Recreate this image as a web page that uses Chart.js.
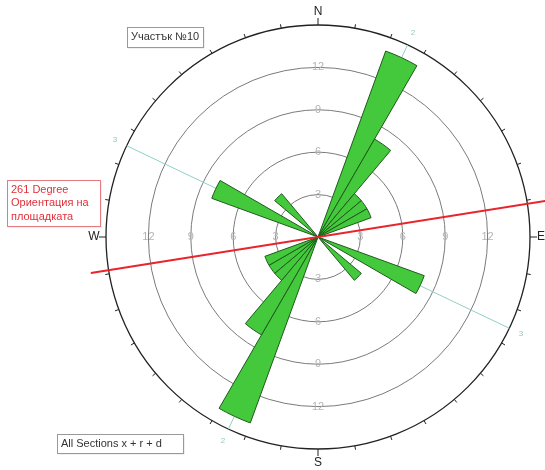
<!DOCTYPE html>
<html>
<head>
<meta charset="utf-8">
<script src="https://cdn.jsdelivr.net/npm/chart.js@4/dist/chart.umd.min.js"></script>
<style>
  html, body { margin: 0; padding: 0; background: #fff; }
  #wrap { width: 545px; height: 470px; }
</style>
</head>
<body>
<div id="wrap"><canvas id="rose" width="545" height="470"></canvas></div>
<script>
// Rose diagram of joint orientations, 10-degree bins, azimuth clockwise from north
const binLabels = [
  '0-10', '10-20', '20-30', '30-40', '40-50', '50-60', '60-70', '70-80', '80-90',
  '90-100', '100-110', '110-120', '120-130', '130-140', '140-150', '150-160', '160-170', '170-180',
  '180-190', '190-200', '200-210', '210-220', '220-230', '230-240', '240-250', '250-260', '260-270',
  '270-280', '280-290', '290-300', '300-310', '310-320', '320-330', '330-340', '340-350', '350-360'
];
const binCounts = [
  0, 0, 14, 8, 4, 4, 4, 0, 0,
  0, 0, 8, 0, 4, 0, 0, 0, 0,
  0, 0, 14, 8, 4, 4, 4, 0, 0,
  0, 0, 8, 0, 4, 0, 0, 0, 0
];
const ringValues = [3, 6, 9, 12];
const scaleMax = 15;
const compassLabels = ['N', 'E', 'S', 'W'];
const setNames = ['2', '3'];
const setDirections = [25, 115.5];
const siteOrientation = 261;
const titleText = 'Участък №10';
const footText = 'All Sections x + r + d';
const orientationLines = ['261 Degree', 'Ориентация на', 'площадката'];

const FONT = '"Liberation Sans", Arial, sans-serif';

function polar(scale, az, r) {
  const a = (az - 90) * Math.PI / 180;
  return { x: scale.xCenter + Math.cos(a) * r, y: scale.yCenter + Math.sin(a) * r };
}

function textBox(ctx, x, y, w, h, lines, color, border, lineH) {
  ctx.save();
  ctx.fillStyle = 'rgba(0,0,0,0.12)';
  ctx.fillRect(x + 1.5, y + 1.5, w, h);
  ctx.fillStyle = '#fff';
  ctx.fillRect(x, y, w, h);
  ctx.strokeStyle = border;
  ctx.lineWidth = 1;
  ctx.strokeRect(x + 0.5, y + 0.5, w, h);
  ctx.fillStyle = color;
  ctx.font = '11px ' + FONT;
  ctx.textBaseline = 'middle';
  ctx.textAlign = 'left';
  lines.forEach((t, i) => ctx.fillText(t, x + 4, y + h / 2 + (i - (lines.length - 1) / 2) * lineH));
  ctx.restore();
}

const underlay = {
  id: 'underlay',
  beforeDatasetsDraw(chart) {
    const ctx = chart.ctx;
    const s = chart.scales.r;
    const R = s.drawingArea;
    ctx.save();
    // mean directions of the joint sets
    ctx.strokeStyle = '#8fd0c6';
    ctx.lineWidth = 1;
    setDirections.forEach((az, i) => {
      const p1 = polar(s, az, R), p2 = polar(s, az + 180, R);
      ctx.beginPath(); ctx.moveTo(p1.x, p1.y); ctx.lineTo(p2.x, p2.y); ctx.stroke();
      ctx.fillStyle = '#8fc8c0';
      ctx.font = '8px ' + FONT;
      ctx.textAlign = 'center'; ctx.textBaseline = 'middle';
      [az, az + 180].forEach(a => {
        const q = polar(s, a, R + 13);
        ctx.fillText(setNames[i], q.x, q.y);
      });
    });
    // ring values along the four cardinal directions
    ctx.fillStyle = '#b4b4b4';
    ctx.font = '11px ' + FONT;
    ctx.textAlign = 'center'; ctx.textBaseline = 'middle';
    ringValues.forEach(v => {
      const d = s.getDistanceFromCenterForValue(v);
      [0, 90, 180, 270].forEach(az => {
        const q = polar(s, az, d);
        ctx.fillText(String(v), q.x, q.y);
      });
    });
    ctx.restore();
  },
  afterDatasetsDraw(chart) {
    const ctx = chart.ctx;
    const s = chart.scales.r;
    const R = s.drawingArea;
    ctx.save();
    // compass ticks every 10 degrees
    ctx.strokeStyle = '#222';
    ctx.lineWidth = 1;
    for (let az = 0; az < 360; az += 10) {
      const len = az % 90 === 0 ? 7 : 4;
      const p1 = polar(s, az, R), p2 = polar(s, az, R + len);
      ctx.beginPath(); ctx.moveTo(p1.x, p1.y); ctx.lineTo(p2.x, p2.y); ctx.stroke();
    }
    ctx.fillStyle = '#222';
    ctx.font = '12px ' + FONT;
    ctx.textAlign = 'center'; ctx.textBaseline = 'middle';
    const labelGap = [13, 11, 14, 12];
    compassLabels.forEach((t, i) => {
      const q = polar(s, i * 90, R + labelGap[i]);
      ctx.fillText(t, q.x, q.y);
    });
    // site orientation line
    ctx.strokeStyle = '#e8242c';
    ctx.lineWidth = 2;
    const a1 = polar(s, siteOrientation, 230), a2 = polar(s, siteOrientation - 180, 232);
    ctx.beginPath(); ctx.moveTo(a1.x, a1.y); ctx.lineTo(a2.x, a2.y); ctx.stroke();
    ctx.restore();

    textBox(ctx, 127, 27, 76, 20, [titleText], '#333', '#999', 13);
    textBox(ctx, 57, 434, 126, 19, [footText], '#333', '#999', 13);
    textBox(ctx, 7, 180, 93, 46, orientationLines, '#e0303a', '#e57a80', 13.5);
  }
};

new Chart(document.getElementById('rose'), {
  type: 'polarArea',
  data: {
    labels: binLabels,
    datasets: [{
      data: binCounts,
      backgroundColor: '#44c83c',
      borderColor: '#1e5a1c',
      borderWidth: 1
    }]
  },
  options: {
    responsive: false,
    animation: false,
    plugins: { legend: { display: false }, tooltip: { enabled: false } },
    scales: {
      r: {
        min: 0,
        max: scaleMax,
        startAngle: 0,
        ticks: { display: false, stepSize: 3 },
        angleLines: { display: false },
        pointLabels: { display: false },
        grid: {
          color: ctx => ctx.tick.value === scaleMax ? '#222' : '#7a7a7a',
          lineWidth: ctx => ctx.tick.value === scaleMax ? 1.3 : 1
        },
        afterFit(scale) {
          scale.xCenter = 318;
          scale.yCenter = 237;
          scale.drawingArea = 212;
        }
      }
    }
  },
  plugins: [underlay]
});
</script>
</body>
</html>
